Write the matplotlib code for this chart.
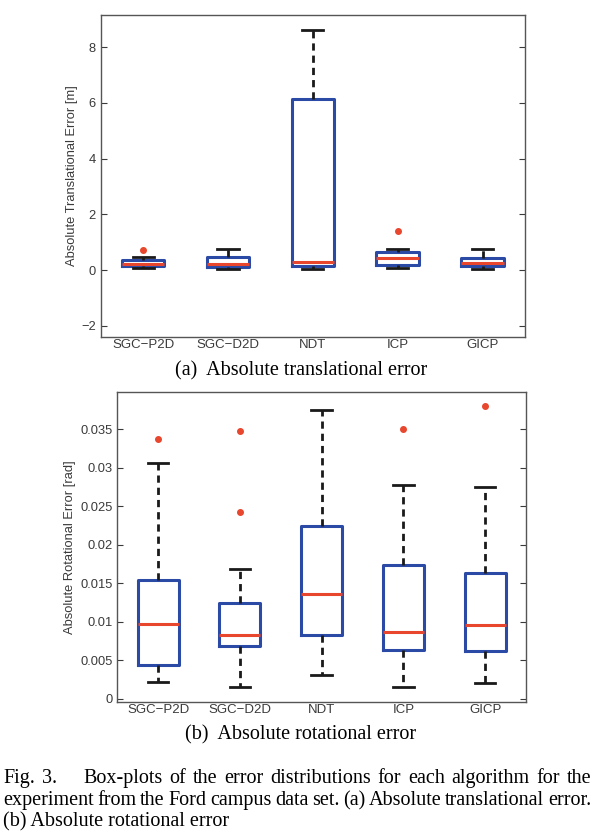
import numpy as np
import matplotlib
matplotlib.use('Agg')
import matplotlib.pyplot as plt

algorithms = ['SGC\u2212P2D', 'SGC\u2212D2D', 'NDT', 'ICP', 'GICP']

# (a) absolute translational error [m]
trans_lo = [0.06, 0.05, 0.04, 0.08, 0.05]
trans_q1 = [0.15, 0.12, 0.15, 0.20, 0.15]
trans_med = [0.23, 0.22, 0.29, 0.44, 0.26]
trans_q3 = [0.37, 0.48, 6.14, 0.65, 0.44]
trans_hi = [0.48, 0.74, 8.62, 0.75, 0.75]
trans_out = [[0.72], [], [], [1.41], []]

# (b) absolute rotational error [rad]
rot_lo = [0.00212, 0.00147, 0.00303, 0.00156, 0.00204]
rot_q1 = [0.00442, 0.00680, 0.00832, 0.00633, 0.00624]
rot_med = [0.00975, 0.00832, 0.01365, 0.00862, 0.00962]
rot_q3 = [0.01538, 0.01244, 0.02240, 0.01742, 0.01638]
rot_hi = [0.03060, 0.01690, 0.03757, 0.02782, 0.02751]
rot_out = [[0.0337], [0.0348, 0.0242], [], [0.0351], [0.0380]]

BLUE = '#2b4aa6'
RED = '#e8472e'
TICK_GRAY = '#3a3a3a'

W, H = 594, 833


def make_stats(lo, q1, med, q3, hi, out):
    stats = []
    for i in range(len(algorithms)):
        stats.append(dict(whislo=lo[i], q1=q1[i], med=med[i], q3=q3[i],
                          whishi=hi[i], fliers=out[i], label=algorithms[i]))
    return stats


def draw_boxes(ax, stats):
    ax.bxp(stats, positions=np.arange(1, len(stats) + 1), widths=0.5,
           capwidths=0.25, showfliers=True,
           boxprops=dict(color=BLUE, linewidth=2.2),
           medianprops=dict(color=RED, linewidth=2.2),
           whiskerprops=dict(color='#1a1a1a', linewidth=2.0, linestyle=(0, (2.6, 1.8))),
           capprops=dict(color='#1a1a1a', linewidth=2.0),
           flierprops=dict(marker='o', markersize=4, markerfacecolor=RED,
                           markeredgecolor=RED))
    ax.set_xlim(0.5, 5.5)
    ax.tick_params(axis='x', length=0, labelsize=9.5, colors=TICK_GRAY, pad=1.5)
    ax.tick_params(axis='y', direction='in', right=True, length=4,
                   labelsize=9.3, colors=TICK_GRAY, width=0.8)
    for sp in ax.spines.values():
        sp.set_color('#555555')
        sp.set_linewidth(1.0)


plt.rcParams['font.family'] = ['Liberation Sans', 'DejaVu Sans']

fig = plt.figure(figsize=(W / 100, H / 100), dpi=100)

# (a) translational error
ax1 = fig.add_axes([0.1695, 0.5954, 0.7143, 0.3866])
draw_boxes(ax1, make_stats(trans_lo, trans_q1, trans_med, trans_q3, trans_hi, trans_out))
ax1.set_ylim(-2.4, 9.15)
ax1.set_yticks([-2, 0, 2, 4, 6, 8])
ax1.set_yticklabels(['\u22122', '0', '2', '4', '6', '8'])
ax1.set_ylabel('Absolute Translational Error [m]', fontsize=9.3, color=TICK_GRAY, labelpad=2.5)

# (b) rotational error
ax2 = fig.add_axes([0.1975, 0.1576, 0.688, 0.3722])
draw_boxes(ax2, make_stats(rot_lo, rot_q1, rot_med, rot_q3, rot_hi, rot_out))
ax2.set_ylim(-0.0004, 0.0399)
rot_ticks = [0, 0.005, 0.01, 0.015, 0.02, 0.025, 0.03, 0.035]
ax2.set_yticks(rot_ticks)
ax2.set_yticklabels(['0', '0.005', '0.01', '0.015', '0.02', '0.025', '0.03', '0.035'])
ax2.set_ylabel('Absolute Rotational Error [rad]', fontsize=9.3, color=TICK_GRAY, labelpad=3)

# captions in a Times-like serif
serif = ['Liberation Serif', 'DejaVu Serif']
cap_size = 14.5
fig.text(301 / W, 1 - 375 / H, '(a)  Absolute translational error', ha='center', va='baseline',
         fontsize=cap_size, family=serif)
fig.text(301 / W, 1 - 739 / H, '(b)  Absolute rotational error', ha='center', va='baseline',
         fontsize=cap_size, family=serif)

renderer = fig.canvas.get_renderer()


def justified_line(words, y_px, x0=3, x1=591, extra_after=None):
    texts = []
    widths = []
    for w in words:
        t = fig.text(0, 1 - y_px / H, w, ha='left', va='baseline', fontsize=cap_size, family=serif)
        texts.append(t)
        widths.append(t.get_window_extent(renderer).width)
    extra = extra_after or {}
    fixed = sum(extra.values())
    gap = (x1 - x0 - sum(widths) - fixed) / (len(words) - 1)
    x = x0
    for i, t in enumerate(texts):
        t.set_x(x / W)
        x += widths[i] + gap + extra.get(i, 0)


line1 = 'Fig. 3. Box-plots of the error distributions for each algorithm for the'.split()
line2 = 'experiment from the Ford campus data set. (a) Absolute translational error.'.split()
justified_line(line1, 783, extra_after={1: 20})
justified_line(line2, 805)
fig.text(3 / W, 1 - 826 / H, '(b) Absolute rotational error', ha='left', va='baseline',
         fontsize=cap_size, family=serif)

fig.savefig('out.png', dpi=100)
